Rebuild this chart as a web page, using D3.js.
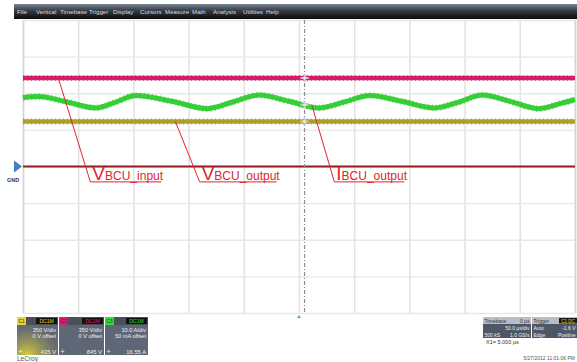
<!DOCTYPE html>
<html>
<head>
<meta charset="utf-8">
<script src="https://cdn.jsdelivr.net/npm/d3@7"></script>
<style>
  html, body { margin: 0; padding: 0; background: #ffffff; }
  svg { display: block; font-family: "Liberation Sans", Arial, sans-serif; }
</style>
</head>
<body>
<svg id="scope" width="577" height="362"></svg>
<script>
// ---- acquisition data (time in µs, 50 µs/div, 10 divisions) ----
const timeTicks = [-250, -200, -150, -100, -50, 0, 50, 100, 150, 200, 250];
const divTicks = [-4, -3, -2, -1, 0, 1, 2, 3, 4];

// C2: V_BCU_input, 350 V/div
const inputTime = [-250, -150, -50, 50, 150, 250];
const inputVolts = [845, 845, 846, 845, 845, 845];

// C1: V_BCU_output, 350 V/div
const outputTime = [-250, -150, -50, 50, 150, 250];
const outputVolts = [430, 430, 431, 430, 430, 430];

// C3: I_BCU_output, 10 A/div
const currentTime = [-250, -236, -210, -184, -166, -148, -115, -83, -60, -36, -9, 18, 41, 64, 93, 123, 145, 166, 191, 217, 238, 250];
const currentAmps = [18.8, 19.1, 17.6, 16.0, 17.6, 19.4, 17.8, 15.8, 17.6, 19.5, 17.8, 16.0, 17.6, 19.4, 17.8, 16.0, 17.6, 19.5, 17.8, 15.8, 17.3, 18.3];

// reference trace sitting on ground
const groundTime = [-250, 250];
const groundLevel = [0, 0];

const cursorTime = 5; // X1 cursor, µs

const menuItems = ["File", "Vertical", "Timebase", "Trigger", "Display", "Cursors", "Measure", "Math", "Analysis", "Utilities", "Help"];

const channels = [
  { name: "C1", coupling: "DC1M", scale: "350 V/div", offset: "0 V offset", reading: "435 V", color: "#e5d82a" },
  { name: "C2", coupling: "DC1M", scale: "350 V/div", offset: "0 V offset", reading: "845 V", color: "#e0177a" },
  { name: "C3", coupling: "DC1M", scale: "10.0 A/div", offset: "50 mA offset", reading: "16.55 A", color: "#2ee02e" }
];

const annotations = [
  { big: "V", sub: "BCU_input", trace: "input", t: -218, labelT: -189, labelDiv: -0.42, width: 71 },
  { big: "V", sub: "BCU_output", trace: "output", t: -112, labelT: -90, labelDiv: -0.42, width: 77 },
  { big: "I", sub: "BCU_output", trace: "current", t: 12, labelT: 32, labelDiv: -0.42, width: 70 }
];

// ---- layout ----
const svg = d3.select("#scope");
const plot = { left: 23, right: 575, top: 20, bottom: 313 };

const x = d3.scaleLinear().domain([-250, 250]).range([plot.left, plot.right]);
const yDiv = d3.scaleLinear().domain([-4, 4]).range([plot.bottom, plot.top]);
const yVolt = d3.scaleLinear().domain([-4 * 350, 4 * 350]).range([plot.bottom, plot.top]);
const yAmp = d3.scaleLinear().domain([-40, 40]).range([plot.bottom, plot.top]);

// ---- menu bar ----
const defs = svg.append("defs");
const mg = defs.append("linearGradient").attr("id", "menuGrad").attr("x1", 0).attr("y1", 0).attr("x2", 0).attr("y2", 1);
mg.append("stop").attr("offset", "0%").attr("stop-color", "#7a8591");
mg.append("stop").attr("offset", "45%").attr("stop-color", "#353b42");
mg.append("stop").attr("offset", "100%").attr("stop-color", "#0b0c0d");

svg.append("rect").attr("x", 14).attr("y", 4).attr("width", 563).attr("height", 15).attr("fill", "url(#menuGrad)");
const menuX = [17, 36, 60, 89, 113, 140, 165, 192, 213, 243, 266];
svg.append("g").selectAll("text").data(menuItems).join("text")
  .attr("x", (d, i) => menuX[i]).attr("y", 14)
  .attr("font-size", 6.2).attr("fill", "#d8dde3").text(d => d);

// ---- graticule ----
const grid = svg.append("g");
grid.append("g")
  .attr("transform", `translate(0,${plot.bottom})`)
  .call(d3.axisBottom(x).tickValues(timeTicks).tickSize(plot.bottom - plot.top).tickFormat(""))
  .call(g => g.select(".domain").remove())
  .call(g => g.selectAll("line").attr("transform", `translate(0,${-(plot.bottom - plot.top)})`)
    .attr("stroke", "#e3e3e3").attr("stroke-width", 1.6));
grid.append("g")
  .attr("transform", `translate(${plot.left},0)`)
  .call(d3.axisRight(yDiv).tickValues(divTicks).tickSize(plot.right - plot.left).tickFormat(""))
  .call(g => g.select(".domain").remove())
  .call(g => g.selectAll("line").attr("stroke", "#e8e8e8").attr("stroke-width", 1.4));
// frame edges a touch darker
grid.selectAll("g.tick line").filter(function () {
  const d = d3.select(this.parentNode).datum();
  return d === -250 || d === 250;
}).attr("stroke", "#d4d4d4").attr("stroke-width", 1.8);

// ---- traces ----
function trace(times, values, yScale, color, edge, width, curve, fuzzy) {
  const line = d3.line().x((d, i) => x(times[i])).y(d => yScale(d)).curve(curve);
  const g = svg.append("g");
  if (fuzzy) {
    // speckled edge of the acquired signal
    g.append("path").attr("d", line(values)).attr("fill", "none")
      .attr("stroke", edge).attr("stroke-width", width + 1.4).attr("stroke-dasharray", "1 3").attr("opacity", 0.55);
  }
  g.append("path").attr("d", line(values)).attr("fill", "none")
    .attr("stroke", color).attr("stroke-width", width);
  if (fuzzy) {
    g.append("path").attr("d", line(values)).attr("fill", "none")
      .attr("stroke", edge).attr("stroke-width", 0.5).attr("stroke-dasharray", "2 6").attr("opacity", 0.35);
  }
  return line;
}

trace(groundTime, groundLevel, yDiv, "#961a1e", "#961a1e", 2, d3.curveLinear, false);
trace(inputTime, inputVolts, yVolt, "#d81b6a", "#8c1046", 4.5, d3.curveLinear, true);
trace(currentTime, currentAmps, yAmp, "#35d035", "#1d801d", 5, d3.curveMonotoneX, true);
trace(outputTime, outputVolts, yVolt, "#aea125", "#6a6212", 4.5, d3.curveLinear, true);

// ---- cursor ----
const cx = x(cursorTime);
svg.append("line").attr("x1", cx).attr("x2", cx).attr("y1", plot.top).attr("y2", plot.bottom)
  .attr("stroke", "#8c8c8c").attr("stroke-width", 1.2).attr("stroke-dasharray", "4 2 1 2");

const interp = (times, values, t) => {
  const i = d3.bisectRight(times, t) - 1;
  const f = (t - times[i]) / (times[i + 1] - times[i]);
  return values[i] + f * (values[i + 1] - values[i]);
};
const crossings = [
  yVolt(interp(inputTime, inputVolts, cursorTime)),
  yAmp(interp(currentTime, currentAmps, cursorTime)),
  yVolt(interp(outputTime, outputVolts, cursorTime))
];
const cross = svg.append("g").selectAll("g").data(crossings).join("g")
  .attr("transform", d => `translate(${cx},${d})`);
cross.append("path").attr("d", "M-4,0H4M0,-4V4").attr("stroke", "#c9c9c9").attr("stroke-width", 2);
cross.append("circle").attr("r", 1.6).attr("fill", "#e4e4e4");

// trigger position marker
svg.append("path").attr("transform", `translate(${x(0)},${plot.bottom + 3})`)
  .attr("d", "M-2,2L0,-1L2,2Z").attr("fill", "#3ccf3c");

// ground marker
svg.append("path").attr("transform", `translate(14,${yDiv(0)})`)
  .attr("d", "M0,-6L8,0L0,6Z").attr("fill", "#3f7fc4");
svg.append("text").attr("x", 13).attr("y", 182).attr("text-anchor", "middle")
  .attr("font-size", 5.5).attr("font-weight", "bold").attr("fill", "#333").text("GND");

// ---- annotations ----
const traceValue = {
  input: t => yVolt(interp(inputTime, inputVolts, t)),
  output: t => yVolt(interp(outputTime, outputVolts, t)),
  current: t => yAmp(interp(currentTime, currentAmps, t))
};
const ann = svg.append("g").selectAll("g").data(annotations).join("g");
ann.append("polyline")
  .attr("points", d => {
    const x0 = x(d.t), y0 = traceValue[d.trace](d.t);
    const x1 = x(d.labelT), y1 = yDiv(d.labelDiv);
    return `${x0},${y0} ${x1},${y1} ${x1 + d.width},${y1}`;
  })
  .attr("fill", "none").attr("stroke", "#e3242b").attr("stroke-width", 1);
const label = ann.append("text")
  .attr("x", d => x(d.labelT) + 2).attr("y", d => yDiv(d.labelDiv) - 2)
  .attr("fill", "#e3242b");
label.append("tspan").attr("font-size", 19).text(d => d.big);
label.append("tspan").attr("font-size", 12).attr("fill", "#d9262c").text(d => d.sub);

// ---- channel descriptor boxes ----
const boxX = [17, 59, 105];
const boxW = [41, 45, 43];
const glow = defs.append("radialGradient").attr("id", "selGlow").attr("cx", "0.25").attr("cy", "1").attr("r", "0.9");
glow.append("stop").attr("offset", "0%").attr("stop-color", "#d9cf3a");
glow.append("stop").attr("offset", "60%").attr("stop-color", "#8f8d5a").attr("stop-opacity", 0.6);
glow.append("stop").attr("offset", "100%").attr("stop-color", "#5f6777").attr("stop-opacity", 0);

const boxes = svg.append("g").selectAll("g").data(channels).join("g")
  .attr("transform", (d, i) => `translate(${boxX[i]},317)`);
boxes.append("rect").attr("width", (d, i) => boxW[i]).attr("height", 38).attr("fill", "#5f6777");
boxes.filter((d, i) => i === 0).append("rect").attr("width", 41).attr("height", 38).attr("fill", "url(#selGlow)");
boxes.append("rect").attr("width", (d, i) => boxW[i]).attr("height", 8).attr("fill", "#4a4f58");
boxes.append("rect").attr("width", 9).attr("height", 8).attr("fill", d => d.color);
boxes.append("text").attr("x", 1.5).attr("y", 6).attr("font-size", 5).attr("fill", "#333").text(d => d.name);
boxes.append("rect").attr("x", (d, i) => boxW[i] - 22).attr("y", 1).attr("width", 21).attr("height", 6).attr("fill", "#111");
boxes.append("text").attr("x", (d, i) => boxW[i] - 11.5).attr("y", 6).attr("text-anchor", "middle")
  .attr("font-size", 5).attr("fill", d => d.color).text(d => d.coupling);
boxes.append("text").attr("x", (d, i) => boxW[i] - 2).attr("y", 15).attr("text-anchor", "end")
  .attr("font-size", 5.6).attr("fill", "#eef0f2").text(d => d.scale);
boxes.append("text").attr("x", (d, i) => boxW[i] - 2).attr("y", 21).attr("text-anchor", "end")
  .attr("font-size", 5.6).attr("fill", "#eef0f2").text(d => d.offset);
boxes.append("text").attr("x", 1.5).attr("y", 37).attr("font-size", 7).attr("fill", "#eef0f2").text("+");
boxes.append("text").attr("x", (d, i) => boxW[i] - 2).attr("y", 37).attr("text-anchor", "end")
  .attr("font-size", 5.8).attr("fill", "#eef0f2").text(d => d.reading);

svg.append("text").attr("x", 17).attr("y", 361).attr("font-size", 6.5).attr("fill", "#555").text("LeCroy");

// ---- timebase / trigger boxes ----
const tb = svg.append("g").attr("transform", "translate(483,317)");
tb.append("rect").attr("width", 48).attr("height", 21).attr("fill", "#4f5766");
tb.append("rect").attr("width", 48).attr("height", 7).attr("fill", "#b9bec6");
tb.append("text").attr("x", 1.5).attr("y", 5.5).attr("font-size", 5).attr("fill", "#333").text("Timebase");
tb.append("text").attr("x", 46.5).attr("y", 5.5).attr("text-anchor", "end").attr("font-size", 5).attr("fill", "#333").text("0 µs");
tb.append("text").attr("x", 46.5).attr("y", 12.5).attr("text-anchor", "end").attr("font-size", 5).attr("fill", "#eef0f2").text("50.0 µs/div");
tb.append("text").attr("x", 1.5).attr("y", 19.5).attr("font-size", 5).attr("fill", "#eef0f2").text("500 kS");
tb.append("text").attr("x", 46.5).attr("y", 19.5).attr("text-anchor", "end").attr("font-size", 5).attr("fill", "#eef0f2").text("1.0 GS/s");

const tr = svg.append("g").attr("transform", "translate(532,317)");
tr.append("rect").attr("width", 45).attr("height", 21).attr("fill", "#4f5766");
tr.append("rect").attr("width", 45).attr("height", 7).attr("fill", "#b9bec6");
tr.append("rect").attr("x", 27).attr("y", 1).attr("width", 18).attr("height", 5.5).attr("fill", "#1a1a1a");
tr.append("text").attr("x", 1.5).attr("y", 5.5).attr("font-size", 5).attr("fill", "#333").text("Trigger");
tr.append("text").attr("x", 36).attr("y", 5.5).attr("text-anchor", "middle").attr("font-size", 4.5).attr("fill", "#e5d82a").text("C1 DC");
tr.append("text").attr("x", 1.5).attr("y", 12.5).attr("font-size", 5).attr("fill", "#eef0f2").text("Auto");
tr.append("text").attr("x", 43.5).attr("y", 12.5).attr("text-anchor", "end").attr("font-size", 5).attr("fill", "#eef0f2").text("-1.6 V");
tr.append("text").attr("x", 1.5).attr("y", 19.5).attr("font-size", 5).attr("fill", "#eef0f2").text("Edge");
tr.append("text").attr("x", 43.5).attr("y", 19.5).attr("text-anchor", "end").attr("font-size", 5).attr("fill", "#eef0f2").text("Positive");

svg.append("text").attr("x", 486).attr("y", 344).attr("font-size", 5.5).attr("fill", "#333").text("X1= 5.000 µs");
svg.append("text").attr("x", 575).attr("y", 360).attr("text-anchor", "end").attr("font-size", 5).attr("fill", "#555").text("5/27/2012 11:01:06 PM");
</script>
</body>
</html>
